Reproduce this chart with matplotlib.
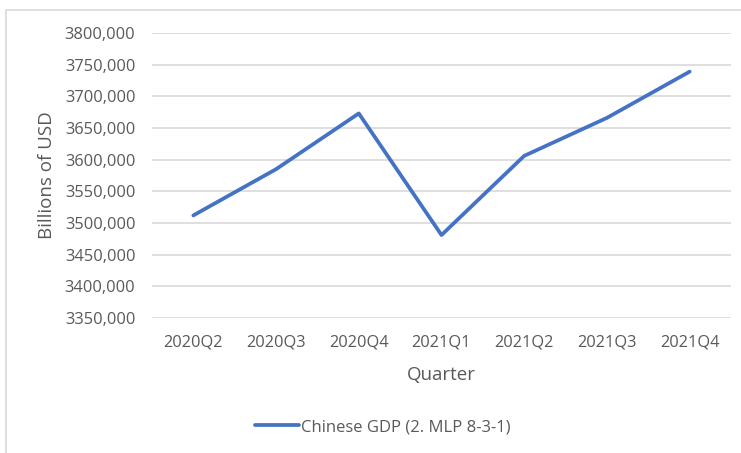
"""Chinese GDP by quarter, MLP 8-3-1 model output (line chart)."""

import matplotlib
matplotlib.use("Agg")
import matplotlib.pyplot as plt
from matplotlib.patches import Rectangle
from matplotlib.ticker import FuncFormatter, MultipleLocator

plt.rcParams.update({
    "font.family": ["Open Sans", "DejaVu Sans"],
    "font.size": 10,
})

quarters = ["2020Q2", "2020Q3", "2020Q4", "2021Q1", "2021Q2", "2021Q3", "2021Q4"]
gdp = [3512000, 3585000, 3673000, 3481000, 3606000, 3666000, 3739000]

TEXT = "#595959"
GRID = "#d9d9d9"
LINE = "#4472C4"


def thousands(v, _pos):
    v = int(round(v))
    return f"{v // 1000},{v % 1000:03d}"


fig = plt.figure(figsize=(7.41, 4.53), dpi=100)
# chart-area frame
fig.patches.append(Rectangle((6 / 741, -0.1), 1.2, 1 - 10 / 453 + 0.1,
                             transform=fig.transFigure, fill=False,
                             edgecolor=GRID, linewidth=1.2))

ax = fig.add_axes([152 / 741, 135 / 453, 579 / 741, 285 / 453])
x = list(range(len(quarters)))
ax.plot(x, gdp, color=LINE, linewidth=2.7, solid_capstyle="round",
        solid_joinstyle="round", label="Chinese GDP (2. MLP 8-3-1)")

ax.set_xlim(-0.5, len(quarters) - 0.5)
ax.set_ylim(3350000, 3800000)
ax.yaxis.set_major_locator(MultipleLocator(50000))
ax.yaxis.set_major_formatter(FuncFormatter(thousands))
ax.set_xticks(x)
ax.set_xticklabels(quarters)
ax.tick_params(length=0, colors=TEXT, labelsize=11.8)
ax.tick_params(axis="y", pad=12)
ax.tick_params(axis="x", pad=12)
ax.grid(True, axis="y", color=GRID, linewidth=1.2)
ax.set_axisbelow(True)
for s in ax.spines.values():
    s.set_visible(False)

ax.set_xlabel("Quarter", color=TEXT, fontsize=13.5, labelpad=11)
ax.set_ylabel("Billions of USD", color=TEXT, fontsize=13.5, labelpad=6)

leg = fig.legend(loc="center", bbox_to_anchor=(383 / 741, 1 - 427 / 453),
                 frameon=False, handlelength=2.6, handletextpad=0.15,
                 fontsize=12)
for t in leg.get_texts():
    t.set_color(TEXT)

fig.savefig("out.png", dpi=100)
